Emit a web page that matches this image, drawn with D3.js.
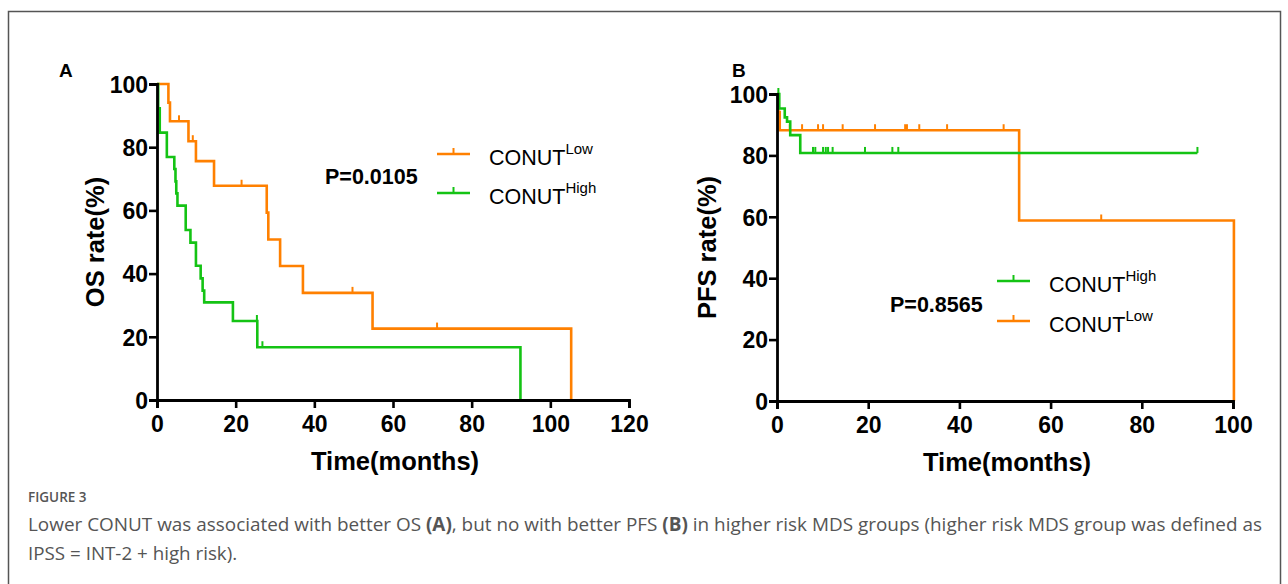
<!DOCTYPE html>
<html>
<head>
<meta charset="utf-8">
<script src="https://cdn.jsdelivr.net/npm/d3@7"></script>
<style>
  body { margin: 0; background: #fff; }
  svg { display: block; }
  .tick text { font-family: "Liberation Sans", Arial, sans-serif; font-weight: bold; font-size: 23px; fill: #000; }
  .cap { font-family: "Open Sans", sans-serif; fill: #555; }
</style>
</head>
<body>
<div id="chart"></div>
<script>
// datos (tiempo en meses, supervivencia en %)
const osLow = [[0,100],[2.9,94.1],[3.3,88.2],[8.0,81.9],[9.9,75.6],[14.5,67.8],[27.9,59.3],[28.3,50.8],[31.3,42.4],[37.1,33.9],[54.8,22.6],[105.3,0]];
const osLowCens = [5.6, 9.1, 21.5, 49.7, 71.2];
const osHigh = [[0,100],[0.3,92.3],[0.7,84.6],[2.5,76.9],[4.4,73.1],[4.7,69.2],[4.9,65.4],[5.2,61.5],[7.3,53.8],[8.5,49.8],[9.9,42.5],[11.1,38.5],[11.6,34.6],[12.0,30.9],[19.3,25.0],[25.5,16.7],[92.4,0]];
const osHighCens = [25.4, 26.8];

const pfsHigh = [[0,100],[0.5,95.3],[1.7,92.4],[2.2,91.0],[2.9,86.6],[5.1,80.8],[92.2,80.8]];
const pfsHighCens = [0.3, 7.9, 8.4, 10.1, 10.7, 11.2, 12.2, 19.3, 25.3, 26.6, 92.2];
const pfsLow = [[0,100],[0.3,94.1],[0.6,88.2],[53.1,58.8],[100.2,0]];
const pfsLowCens = [2.8, 5.5, 9.0, 10.1, 14.4, 21.5, 28.1, 28.5, 31.2, 37.3, 49.7, 71.1];

const yTicks = [0, 20, 40, 60, 80, 100];
const xTicksA = [0, 20, 40, 60, 80, 100, 120];
const xTicksB = [0, 20, 40, 60, 80, 100];

const orange = '#ff8000', green = '#14c314';
const W = 1288, H = 584;

const svg = d3.select('#chart').append('svg').attr('width', W).attr('height', H);

// marco de la figura
svg.append('rect').attr('x', 8.5).attr('y', 11.5).attr('width', 1272).attr('height', 600)
    .attr('fill', 'none').attr('stroke', '#555').attr('stroke-width', 1.5);

function stepValue(curve, t) {
    let v = curve[0][1];
    curve.forEach(function(p) { if (p[0] <= t) v = p[1]; });
    return v;
}

function drawPanel(o) {
    const x = d3.scaleLinear().domain([0, o.xMax]).range([o.x0, o.x1]);
    const y = d3.scaleLinear().domain([0, 100]).range([o.y0, o.y1]);
    const g = svg.append('g');

    const line = d3.line().x(function(d) { return x(d[0]); }).y(function(d) { return y(d[1]); }).curve(d3.curveStepAfter);

    o.series.forEach(function(s) {
        g.append('path').datum(s.data).attr('d', line)
            .attr('fill', 'none').attr('stroke', s.color).attr('stroke-width', 2.6);
        g.selectAll(null).data(s.cens).enter().append('line')
            .attr('x1', function(d) { return x(d); }).attr('x2', function(d) { return x(d); })
            .attr('y1', function(d) { return y(stepValue(s.data, d)); })
            .attr('y2', function(d) { return y(stepValue(s.data, d)) - 6; })
            .attr('stroke', s.color).attr('stroke-width', 2);
    });

    //ejes
    const xAxis = g.append('g').attr('transform', 'translate(0,' + o.y0 + ')')
        .call(d3.axisBottom(x).tickValues(o.xTicks).tickSize(8).tickPadding(8));
    const yAxis = g.append('g').attr('transform', 'translate(' + o.x0 + ',0)')
        .call(d3.axisLeft(y).tickValues(yTicks).tickSize(8).tickPadding(1));
    [xAxis, yAxis].forEach(function(a) {
        a.select('.domain').attr('stroke', '#000').attr('stroke-width', 2.8);
        a.selectAll('.tick line').attr('stroke', '#000').attr('stroke-width', 2.6);
    });
    yAxis.selectAll('.tick text').attr('dy', '0.36em');

    g.append('text').attr('x', (o.x0 + o.x1) / 2 + 2).attr('y', o.y0 + 70)
        .attr('text-anchor', 'middle').style('font', 'bold 25.5px "Liberation Sans", Arial, sans-serif')
        .text('Time(months)');
    g.append('text').attr('transform', 'translate(' + o.yLabX + ',' + ((o.y0 + o.y1) / 2) + ') rotate(-90)')
        .attr('text-anchor', 'middle').style('font', 'bold 25.5px "Liberation Sans", Arial, sans-serif')
        .text(o.yLabel);
    g.append('text').attr('x', o.letterX).attr('y', 77)
        .style('font', 'bold 19px "Liberation Sans", Arial, sans-serif').text(o.letter);

    g.append('text').attr('x', o.pX).attr('y', o.pY)
        .style('font', 'bold 21.5px "Liberation Sans", Arial, sans-serif').text(o.pText);

    //leyenda
    o.legend.forEach(function(l, i) {
        const ly = o.legY + i * o.legGap;
        g.append('line').attr('x1', o.legX).attr('x2', o.legX + 33).attr('y1', ly).attr('y2', ly)
            .attr('stroke', l.color).attr('stroke-width', 2.6);
        g.append('line').attr('x1', o.legX + 16.5).attr('x2', o.legX + 16.5).attr('y1', ly).attr('y2', ly - 6)
            .attr('stroke', l.color).attr('stroke-width', 2);
        const t = g.append('text').attr('x', o.legX + 52).attr('y', ly + 11)
            .style('font', '21.5px "Liberation Sans", Arial, sans-serif');
        t.append('tspan').text('CONUT');
        t.append('tspan').attr('dy', -11).style('font-size', '15px').text(l.sup);
    });
}

drawPanel({
    x0: 157, x1: 629, y0: 400, y1: 84, xMax: 120, xTicks: xTicksA,
    yLabel: 'OS rate(%)', yLabX: 104, letter: 'A', letterX: 59,
    pText: 'P=0.0105', pX: 325, pY: 184,
    legX: 437, legY: 154, legGap: 39,
    series: [
        { data: osLow, cens: osLowCens, color: orange },
        { data: osHigh, cens: osHighCens, color: green }
    ],
    legend: [ { color: orange, sup: 'Low' }, { color: green, sup: 'High' } ]
});

drawPanel({
    x0: 777, x1: 1233, y0: 401, y1: 94, xMax: 100, xTicks: xTicksB,
    yLabel: 'PFS rate(%)', yLabX: 716, letter: 'B', letterX: 732,
    pText: 'P=0.8565', pX: 890, pY: 312,
    legX: 997, legY: 281, legGap: 40,
    series: [
        { data: pfsLow, cens: pfsLowCens, color: orange },
        { data: pfsHigh, cens: pfsHighCens, color: green }
    ],
    legend: [ { color: green, sup: 'High' }, { color: orange, sup: 'Low' } ]
});

// pie de figura
svg.append('text').attr('class', 'cap').attr('x', 28).attr('y', 502)
    .style('font-size', '13.5px').style('font-weight', 600).text('FIGURE 3');
const cap = svg.append('text').attr('class', 'cap').attr('x', 28).attr('y', 531)
    .style('font-size', '18.8px').attr('textLength', 1234).attr('lengthAdjust', 'spacingAndGlyphs');
cap.append('tspan').text('Lower CONUT was associated with better OS ');
cap.append('tspan').style('font-weight', 'bold').text('(A)');
cap.append('tspan').text(', but no with better PFS ');
cap.append('tspan').style('font-weight', 'bold').text('(B)');
cap.append('tspan').text(' in higher risk MDS groups (higher risk MDS group was defined as');
svg.append('text').attr('class', 'cap').attr('x', 28).attr('y', 560).style('font-size', '18.8px')
    .text('IPSS = INT-2 + high risk).');
</script>
</body>
</html>
